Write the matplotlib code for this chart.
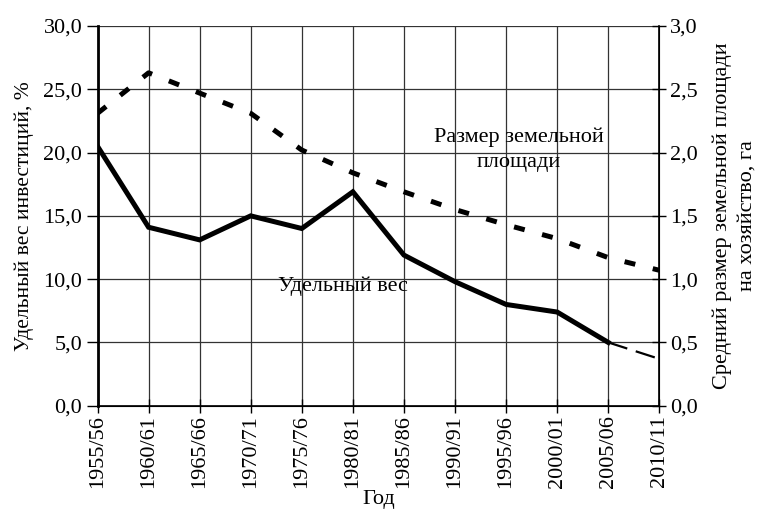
import matplotlib
matplotlib.use("Agg")
import matplotlib.pyplot as plt
from matplotlib.ticker import FuncFormatter

plt.rcParams["font.family"] = ["Liberation Serif", "DejaVu Serif"]

years = ["1955/56", "1960/61", "1965/66", "1970/71", "1975/76", "1980/81",
         "1985/86", "1990/91", "1995/96", "2000/01", "2005/06", "2010/11"]
invest_share = [20.5, 14.1, 13.1, 15.0, 14.0, 16.9, 11.9, 9.8, 8.0, 7.4, 5.0, 3.7]
land_size = [2.31, 2.63, 2.47, 2.31, 2.02, 1.84, 1.69, 1.55, 1.43, 1.32, 1.17, 1.07]
left_ticks = [0, 5, 10, 15, 20, 25, 30]
right_ticks = [0, 0.5, 1.0, 1.5, 2.0, 2.5, 3.0]

fs = 16
fig = plt.figure(figsize=(7.63, 5.24), dpi=100)
ax = fig.add_axes([97.5 / 763, 1 - 405.7 / 524, (659.3 - 97.5) / 763, (405.7 - 26) / 524])
x = list(range(len(years)))

comma = FuncFormatter(lambda v, p: f"{v:.1f}".replace(".", ","))

ax.set_xlim(0, len(years) - 1)
ax.set_ylim(0, 30)
ax.set_yticks(left_ticks)
ax.set_xticks(x)
ax.set_xticklabels(years, rotation=90)
ax.yaxis.set_major_formatter(comma)
ax.grid(True, color="#333333", lw=0.9)
ax.set_axisbelow(True)
ax.tick_params(axis="y", direction="out", length=8, width=1, labelsize=fs, pad=3)
ax.tick_params(axis="x", direction="inout", length=10, width=1, labelsize=fs, pad=2)
ax.spines["top"].set_visible(False)
ax.spines["left"].set_linewidth(2)
ax.spines["bottom"].set_linewidth(1.2)

# investment share: solid, last segment as thin dash
ax.plot(x[:11], invest_share[:11], color="black", lw=3.6, solid_joinstyle="miter", zorder=3)
ax.plot(x[10:], invest_share[10:], color="black", lw=1.6, dashes=(9, 4), zorder=3)

ax.set_ylabel("Удельный вес инвестиций, %", fontsize=15.5, labelpad=7)
ax.set_xlabel("Год", fontsize=fs, labelpad=1)

ax2 = ax.twinx()
ax2.set_ylim(0, 3)
ax2.set_yticks(right_ticks)
ax2.yaxis.set_major_formatter(comma)
ax2.tick_params(axis="y", direction="inout", length=10, width=1, labelsize=fs, pad=3)
ax2.spines["top"].set_visible(False)
ax2.spines["left"].set_visible(False)
ax2.spines["right"].set_linewidth(1.2)
ax2.plot(x, land_size, color="black", lw=3.6, dashes=(2.2, 3.6), zorder=3)
ax2.set_ylabel("Средний размер земельной площади\nна хозяйство, га", fontsize=fs,
               labelpad=10, linespacing=1.4)

ax.text(4.81, 9.4, "Удельный вес", fontsize=fs, ha="center", va="center")
ax2.text(8.25, 2.02, "Размер земельной\nплощади", fontsize=fs, ha="center",
         va="center", linespacing=1.45)

fig.savefig("out.png", dpi=100)
